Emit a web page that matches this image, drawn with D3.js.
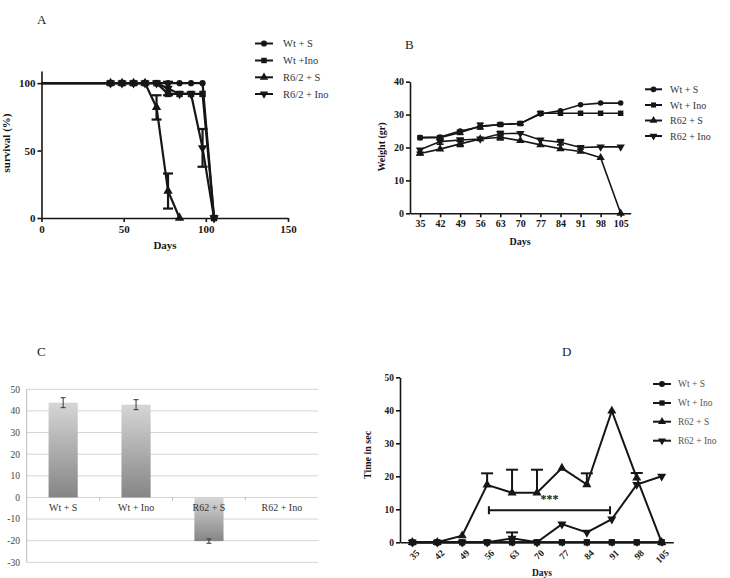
<!DOCTYPE html>
<html>
<head>
<meta charset="utf-8">
<script src="https://cdn.jsdelivr.net/npm/d3@7"></script>
<style>
  body { margin: 0; background: #fff; }
  svg { font-family: "Liberation Serif", "Times New Roman", serif; }
</style>
</head>
<body>
<div class="chart"></div>
<script>
// ---------- data ----------
// A: survival
var groupsA = ["Wt + S", "Wt +Ino", "R6/2 + S", "R6/2 + Ino"];
var daysA = [0, 42, 49, 56, 63, 70, 77, 84, 91, 98, 105];
var survWtS = [100, 100, 100, 100, 100, 100, 100, 100, 100, 100, 0];
var survWtIno = [100, 100, 100, 100, 100, 100, 92, 92, 92, 92, 0];
var survR62S = [100, 100, 100, 100, 100, 82, 20, 0, null, null, null];
var survR62Ino = [100, 100, 100, 100, 100, 100, 96, 92, 92, 52, 0];
var semR62S_A = [0, 0, 0, 0, 0, 9, 13, 0, 0, 0, 0];
var semR62Ino_A = [0, 0, 0, 0, 0, 0, 5, 0, 0, 14, 0];
var ticksAx = [0, 50, 100, 150];
var ticksAy = [0, 50, 100];

// B: weight
var groupsB = ["Wt + S", "Wt + Ino", "R62 + S", "R62 + Ino"];
var daysB = [35, 42, 49, 56, 63, 70, 77, 84, 91, 98, 105];
var weightWtS = [23, 23.2, 25, 26.3, 27, 27.3, 30.2, 31.2, 33, 33.5, 33.5];
var weightWtIno = [23, 23, 24.6, 26.5, 27, 27.3, 30.4, 30.4, 30.4, 30.4, 30.4];
var weightR62S = [18.2, 19.5, 21.1, 22.6, 23.1, 22.1, 20.8, 19.6, 18.8, 16.9, 0];
var weightR62Ino = [19.3, 21.8, 22.3, 22.6, 24.2, 24.3, 22.3, 21.6, 20, 20.2, 20.2];
var semWtIno_B = [0, 0.5, 0.6, 0.9, 0.4, 0.4, 0.5, 0, 0, 0, 0];
var semR62S_B = [0.4, 0, 0.8, 0, 0.8, 0, 0, 0, 0, 0, 0];
var semR62Ino_B = [0, 0.8, 0.5, 0, 0.7, 0, 0, 0.8, 0.5, 0, 0];
var ticksBy = [0, 10, 20, 30, 40];

// C: bars
var catsC = ["Wt + S", "Wt + Ino", "R62 + S", "R62 + Ino"];
var valsC = [43.8, 42.9, -20.2, 0];
var errC = [2.3, 2.3, 1, 0];
var ticksC = [-30, -20, -10, 0, 10, 20, 30, 40, 50];

// D: time in sec
var groupsD = ["Wt + S", "Wt + Ino", "R62 + S", "R62 + Ino"];
var daysD = [35, 42, 49, 56, 63, 70, 77, 84, 91, 98, 105];
var timeWtS = [0, 0, 0, 0, 0, 0, 0, 0, 0, 0, 0];
var timeWtIno = [0, 0, 0, 0, 0, 0, 0, 0, 0, 0, 0];
var timeR62S = [0, 0, 2, 17.4, 15, 15, 22.5, 17.5, 39.8, 19.5, 0];
var timeR62Ino = [0, 0, 0, 0, 1.2, 0, 5.5, 3, 7, 17.5, 20];
var semR62S_D = [0, 0, 0, 3.5, 7, 7, 0, 3.4, 0, 1.5, 0];
var semR62Ino_D = [0, 0, 0, 0, 1.8, 0, 0, 0, 0, 0, 0];
var ticksDy = [0, 10, 20, 30, 40, 50];
var bracketD = [56.5, 90.5, 9.7];

// ---------- setup ----------
var svg = d3.select(".chart").append("svg")
  .attr("width", 730)
  .attr("height", 578);

var ink = "#161616";
var symbolTypes = [d3.symbolCircle, d3.symbolSquare, d3.symbolTriangle, d3.symbolTriangle];
var symbolRot = [0, 0, 0, 180];

function marker(g, i, x, y, size) {
  g.append("path")
    .attr("d", d3.symbol().type(symbolTypes[i]).size(size)())
    .attr("transform", `translate(${x},${y}) rotate(${symbolRot[i]})`)
    .attr("fill", ink);
}

// draws one series: line, error bars, markers
function drawSeries(g, days, vals, sems, i, xs, ys, opt) {
  var pts = days.map((d, k) => ({d: d, v: vals[k], e: sems ? sems[k] : 0}))
    .filter(p => p.v !== null);
  var line = d3.line().x(p => xs(p.d)).y(p => ys(p.v));
  g.append("path")
    .attr("d", line(pts))
    .attr("fill", "none")
    .attr("stroke", ink)
    .attr("stroke-width", opt.lw);
  pts.forEach(function(p) {
    if (p.e > 0) {
      var lo = opt.upOnly ? p.v : p.v - p.e;
      var hi = p.v + p.e;
      g.append("line")
        .attr("x1", xs(p.d)).attr("x2", xs(p.d))
        .attr("y1", ys(lo)).attr("y2", ys(hi))
        .attr("stroke", ink).attr("stroke-width", opt.lw);
      [hi].concat(opt.upOnly ? [] : [lo]).forEach(function(v) {
        g.append("line")
          .attr("x1", xs(p.d) - opt.cap).attr("x2", xs(p.d) + opt.cap)
          .attr("y1", ys(v)).attr("y2", ys(v))
          .attr("stroke", ink).attr("stroke-width", opt.lw);
      });
    }
  });
  pts.filter(p => p.d > 0).forEach(function(p) {
    marker(g, i, xs(p.d), ys(p.v), opt.ms[i]);
  });
}

function drawLegend(g, names, x, rows, opt) {
  names.forEach(function(n, i) {
    g.append("line")
      .attr("x1", x).attr("x2", x + opt.len)
      .attr("y1", rows[i]).attr("y2", rows[i])
      .attr("stroke", ink).attr("stroke-width", 2);
    marker(g, i, x + opt.len / 2, rows[i], opt.ms);
    g.append("text")
      .attr("x", x + opt.len + opt.gap)
      .attr("y", rows[i])
      .attr("dy", "0.35em")
      .attr("font-size", opt.fs)
      .attr("fill", opt.color)
      .text(n);
  });
}

function styleAxis(ax, fs) {
  ax.selectAll("path, line").attr("stroke", ink).attr("stroke-width", 1.6);
  ax.selectAll("text")
    .attr("font-family", "Liberation Serif, serif")
    .attr("font-weight", "bold")
    .attr("font-size", fs)
    .attr("fill", ink);
}

function panelLabel(t, x, y) {
  svg.append("text").attr("x", x).attr("y", y)
    .attr("font-size", 13).attr("fill", "#222").text(t);
}

/* ===== Panel A ===== */
var gA = svg.append("g");
var xA = d3.scaleLinear().domain([0, 150]).range([41.5, 288]);
var yA = d3.scaleLinear().domain([0, 109]).range([218, 71]);

var axA = gA.append("g").attr("transform", "translate(0,218)")
  .call(d3.axisBottom(xA).tickValues(ticksAx).tickSize(4).tickSizeOuter(0).tickPadding(3));
styleAxis(axA, 11);
var ayA = gA.append("g").attr("transform", "translate(41.5,0)")
  .call(d3.axisLeft(yA).tickValues(ticksAy).tickSize(4).tickSizeOuter(0).tickPadding(2));
styleAxis(ayA, 11);

// squares end up on top, like the original
var optA = {lw: 2.2, cap: 5, ms: [30, 42, 38, 38]};
drawSeries(gA, daysA, survR62Ino, semR62Ino_A, 3, xA, yA, optA);
drawSeries(gA, daysA, survR62S, semR62S_A, 2, xA, yA, optA);
drawSeries(gA, daysA, survWtS, null, 0, xA, yA, optA);
drawSeries(gA, daysA, survWtIno, null, 1, xA, yA, optA);

gA.append("text").attr("x", 165).attr("y", 249)
  .attr("text-anchor", "middle").attr("font-weight", "bold").attr("font-size", 11)
  .attr("fill", ink).text("Days");
gA.append("text").attr("transform", "translate(10,143) rotate(-90)")
  .attr("text-anchor", "middle").attr("font-weight", "bold").attr("font-size", 11)
  .attr("fill", ink).text("survival (%)");
drawLegend(gA, groupsA, 255, [43.5, 60.5, 77.3, 94], {len: 18, gap: 10, ms: 30, fs: 10.5, color: "#333"});
panelLabel("A", 37, 24);

/* ===== Panel B ===== */
var gB = svg.append("g");
var xB = d3.scaleLinear().domain([31.5, 108.5]).range([410, 630.7]);
var yB = d3.scaleLinear().domain([0, 40]).range([213.3, 81.7]);

var axB = gB.append("g").attr("transform", "translate(0,213.3)")
  .call(d3.axisBottom(xB).tickValues(daysB).tickSize(4).tickSizeOuter(0).tickPadding(3));
styleAxis(axB, 10);
var ayB = gB.append("g").attr("transform", "translate(410,0)")
  .call(d3.axisLeft(yB).tickValues(ticksBy).tickSize(4).tickSizeOuter(0).tickPadding(2));
styleAxis(ayB, 10);

var optB = {lw: 1.6, cap: 3.5, ms: [24, 30, 30, 30]};
drawSeries(gB, daysB, weightWtS, null, 0, xB, yB, optB);
drawSeries(gB, daysB, weightWtIno, semWtIno_B, 1, xB, yB, optB);
drawSeries(gB, daysB, weightR62S, semR62S_B, 2, xB, yB, optB);
drawSeries(gB, daysB, weightR62Ino, semR62Ino_B, 3, xB, yB, optB);

gB.append("text").attr("x", 520).attr("y", 245)
  .attr("text-anchor", "middle").attr("font-weight", "bold").attr("font-size", 10)
  .attr("fill", ink).text("Days");
gB.append("text").attr("transform", "translate(385,147) rotate(-90)")
  .attr("text-anchor", "middle").attr("font-weight", "bold").attr("font-size", 10)
  .attr("fill", ink).text("Weight (gr)");
drawLegend(gB, groupsB, 645, [89.3, 105, 120.5, 136], {len: 17, gap: 8, ms: 26, fs: 10, color: "#333"});
panelLabel("B", 405, 49);

/* ===== Panel C ===== */
var gC = svg.append("g");
var xC = d3.scaleBand().domain(catsC).range([26.7, 318.3]);
var yC = d3.scaleLinear().domain([-30, 50]).range([562.3, 389.3]);

var grad = svg.append("defs").append("linearGradient")
  .attr("id", "barGrad").attr("x1", 0).attr("x2", 0).attr("y1", 0).attr("y2", 1);
grad.append("stop").attr("offset", "0%").attr("stop-color", "#d6d6d6");
grad.append("stop").attr("offset", "100%").attr("stop-color", "#858585");

gC.selectAll(".grid").data(ticksC).enter().append("line")
  .attr("class", "grid")
  .attr("x1", xC.range()[0]).attr("x2", xC.range()[1])
  .attr("y1", d => yC(d)).attr("y2", d => yC(d))
  .attr("stroke", "#d4d4d4").attr("stroke-width", 1);
gC.append("line")
  .attr("x1", xC.range()[0]).attr("x2", xC.range()[0])
  .attr("y1", yC(-30)).attr("y2", yC(50))
  .attr("stroke", "#bbb");
gC.selectAll(".ytick").data(ticksC).enter().append("text")
  .attr("x", 20).attr("y", d => yC(d)).attr("dy", "0.35em")
  .attr("text-anchor", "end").attr("font-size", 9.5).attr("fill", "#444")
  .text(d => d);
// little ticks on the zero line between categories
gC.selectAll(".ctick").data(catsC.slice(1)).enter().append("line")
  .attr("x1", d => xC(d)).attr("x2", d => xC(d))
  .attr("y1", yC(0)).attr("y2", yC(0) + 3)
  .attr("stroke", "#bbb");

var barW = xC.bandwidth() * 0.4;
gC.selectAll(".bar").data(catsC).enter().append("rect")
  .attr("x", d => xC(d) + (xC.bandwidth() - barW) / 2)
  .attr("width", barW)
  .attr("y", (d, i) => yC(Math.max(0, valsC[i])))
  .attr("height", (d, i) => Math.abs(yC(valsC[i]) - yC(0)))
  .attr("fill", "url(#barGrad)");

catsC.forEach(function(c, i) {
  if (errC[i] > 0) {
    var cx = xC(c) + xC.bandwidth() / 2;
    var path = `M${cx - 2.5},${yC(valsC[i] + errC[i])}H${cx + 2.5}M${cx},${yC(valsC[i] + errC[i])}V${yC(valsC[i] - errC[i])}M${cx - 2.5},${yC(valsC[i] - errC[i])}H${cx + 2.5}`;
    gC.append("path").attr("d", path).attr("stroke", "#333").attr("fill", "none");
  }
});
gC.selectAll(".clabel").data(catsC).enter().append("text")
  .attr("x", d => xC(d) + xC.bandwidth() / 2)
  .attr("y", yC(0) + 14)
  .attr("text-anchor", "middle").attr("font-size", 10).attr("fill", "#333")
  .text(d => d);
panelLabel("C", 37, 356);

/* ===== Panel D ===== */
var gD = svg.append("g");
var xD = d3.scaleLinear().domain([31.55, 108.26]).range([400, 673.3]);
var yD = d3.scaleLinear().domain([0, 50]).range([542.3, 377.3]);

var axD = gD.append("g").attr("transform", "translate(0,542.3)")
  .call(d3.axisBottom(xD).tickValues(daysD).tickSize(4).tickSizeOuter(0));
styleAxis(axD, 9.5);
axD.selectAll("text")
  .attr("y", 0).attr("x", 0).attr("dy", "0.35em")
  .attr("text-anchor", "end")
  .attr("transform", "translate(5,9) rotate(-45)");
var ayD = gD.append("g").attr("transform", "translate(400,0)")
  .call(d3.axisLeft(yD).tickValues(ticksDy).tickSize(4).tickSizeOuter(0).tickPadding(2));
styleAxis(ayD, 9.5);

var optD = {lw: 2, cap: 6, upOnly: true, ms: [30, 40, 36, 36]};
drawSeries(gD, daysD, timeWtS, null, 0, xD, yD, optD);
drawSeries(gD, daysD, timeWtIno, null, 1, xD, yD, optD);
drawSeries(gD, daysD, timeR62S, semR62S_D, 2, xD, yD, optD);
drawSeries(gD, daysD, timeR62Ino, semR62Ino_D, 3, xD, yD, optD);

// significance bracket
gD.append("path")
  .attr("d", `M${xD(bracketD[0])},${yD(bracketD[2]) - 4}V${yD(bracketD[2]) + 4}M${xD(bracketD[0])},${yD(bracketD[2])}H${xD(bracketD[1])}M${xD(bracketD[1])},${yD(bracketD[2]) - 4}V${yD(bracketD[2]) + 4}`)
  .attr("stroke", ink).attr("stroke-width", 2).attr("fill", "none");
gD.append("text")
  .attr("x", (xD(bracketD[0]) + xD(bracketD[1])) / 2)
  .attr("y", yD(bracketD[2]) - 7)
  .attr("text-anchor", "middle").attr("font-weight", "bold").attr("font-size", 12)
  .attr("fill", ink).text("***");

gD.append("text").attr("x", 542).attr("y", 576)
  .attr("text-anchor", "middle").attr("font-weight", "bold").attr("font-size", 9.5)
  .attr("fill", ink).text("Days");
gD.append("text").attr("transform", "translate(371,455) rotate(-90)")
  .attr("text-anchor", "middle").attr("font-weight", "bold").attr("font-size", 10)
  .attr("fill", ink).text("Time in sec");
drawLegend(gD, groupsD, 653, [384, 403, 421.7, 440.7], {len: 18, gap: 7, ms: 28, fs: 9.5, color: "#555"});
panelLabel("D", 562, 356);
</script>
</body>
</html>
